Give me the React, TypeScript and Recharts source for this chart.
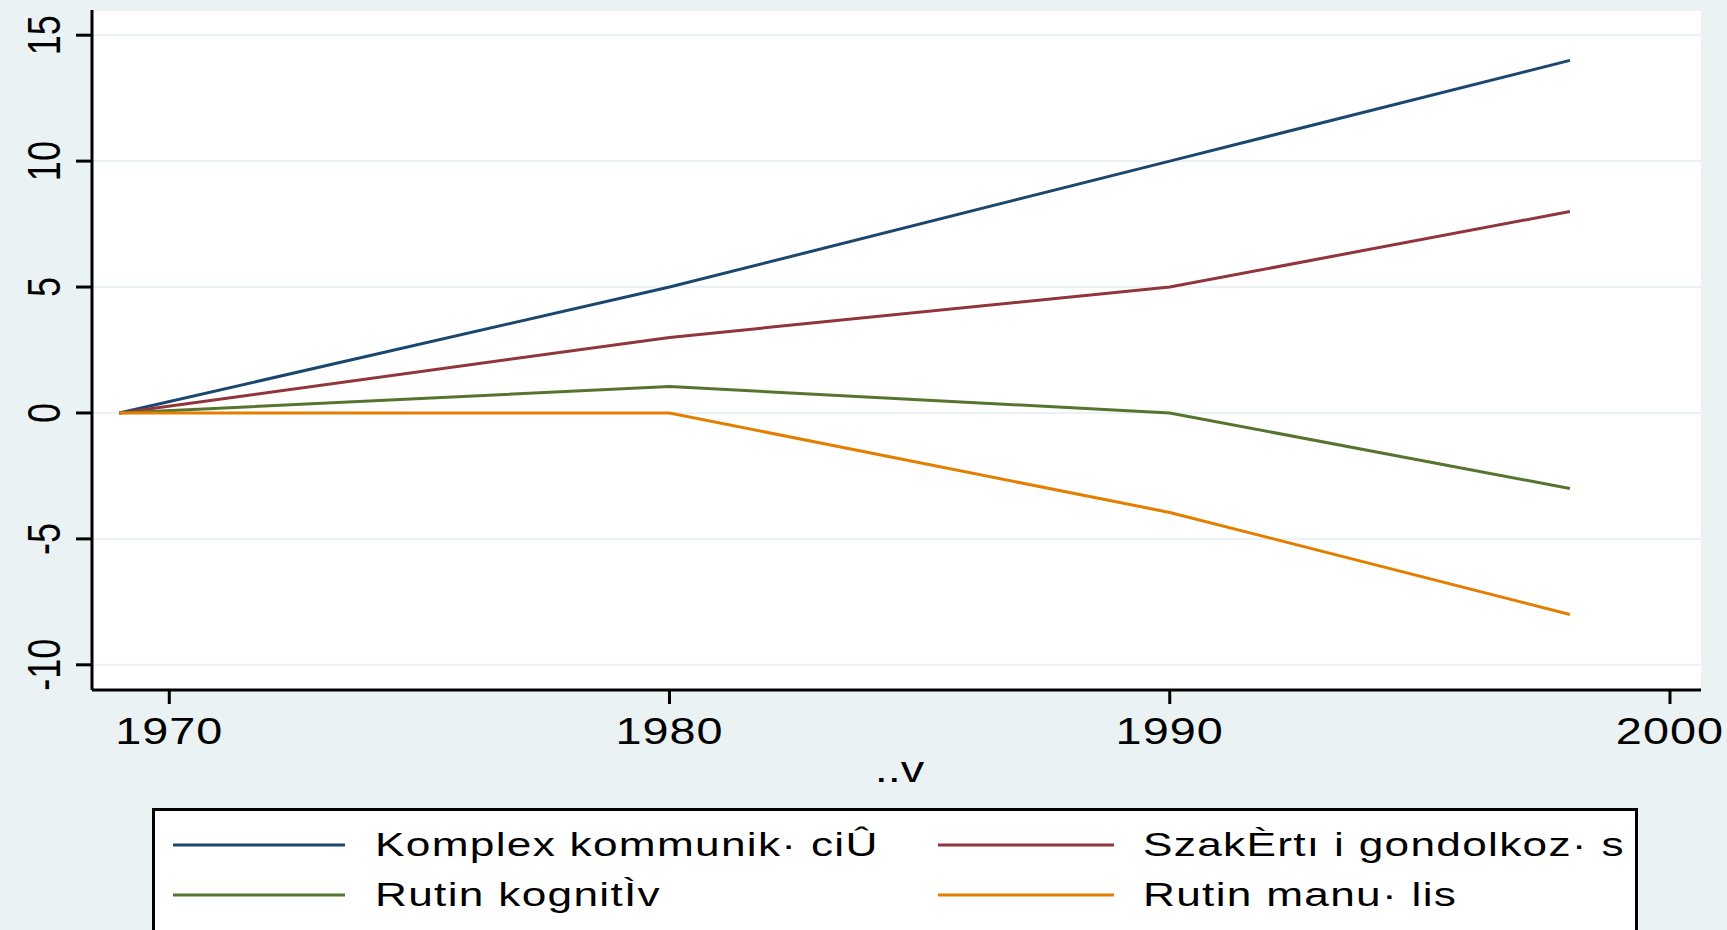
import React from 'react';
import { LineChart, Line, XAxis, YAxis, CartesianGrid, Legend } from 'recharts';

// ---- data ----
const years = [1969, 1980, 1990, 1998];
const komplex = [0, 5, 10, 14];
const szakerto = [0, 3, 5, 8];
const rutinKog = [0, 1.05, 0, -3];
const rutinMan = [0, 0, -3.95, -8];

const xTicks = [1970, 1980, 1990, 2000];
const yTicks = [-10, -5, 0, 5, 10, 15];

const seriesKeys = ['komplex', 'szakerto', 'rutinKog', 'rutinMan'];
const seriesNames = [
  'Komplex kommunik· ciÛ',
  'SzakÈrtı i gondolkoz· s',
  'Rutin kognitÌv',
  'Rutin manu· lis',
];
const seriesColors = ['#1a476f', '#90353b', '#55752f', '#e37e00'];
const xTitle = '..v';

const data = years.map((y, i) => ({
  year: y,
  komplex: komplex[i],
  szakerto: szakerto[i],
  rutinKog: rutinKog[i],
  rutinMan: rutinMan[i],
}));

const FONT = "'Liberation Sans', Arial, Helvetica, sans-serif";
const SX = 1.3;

const XTick = (props: any) => {
  const { x, y, payload } = props;
  return (
    <g transform={`translate(${x},${y})`}>
      <text
        x={0}
        y={0}
        transform={`scale(${SX},1)`}
        textAnchor="middle"
        fontSize={36}
        fontFamily={FONT}
        fill="#000"
        letterSpacing={0.8}
      >
        {payload.value}
      </text>
    </g>
  );
};

const YTick = (props: any) => {
  const { x, y, payload } = props;
  return (
    <g transform={`translate(${x},${y})`}>
      <text
        x={0}
        y={0}
        transform={`scale(${SX},1) rotate(-90)`}
        textAnchor="middle"
        fontSize={36}
        fontFamily={FONT}
        fill="#000"
      >
        {payload.value}
      </text>
    </g>
  );
};

const XTitle = (props: any) => {
  const vb = props.viewBox || { x: 92, y: 690, width: 1609, height: 100 };
  const cx = vb.x + vb.width / 2 + 3;
  const cy = vb.y + 92;
  return (
    <g transform={`translate(${cx},${cy})`}>
      <text
        x={0}
        y={0}
        transform={`scale(${SX},1)`}
        textAnchor="middle"
        fontSize={36}
        fontFamily={FONT}
        fill="#000"
      >
        {xTitle}
      </text>
    </g>
  );
};

const LegendBox = () => {
  const colLine = [
    [21, 193],
    [786, 962],
  ];
  const colText = [223, 991];
  const rowY = [37, 87];
  return (
    <svg width={1486} height={150} style={{ display: 'block' }}>
      <rect x={1.5} y={1.5} width={1483} height={200} fill="#fff" stroke="#000" strokeWidth={3} />
      {seriesNames.map((name, i) => {
        const r = Math.floor(i / 2);
        const c = i % 2;
        return (
          <g key={name}>
            <line
              x1={colLine[c][0]}
              x2={colLine[c][1]}
              y1={rowY[r]}
              y2={rowY[r]}
              stroke={seriesColors[i]}
              strokeWidth={3}
            />
            <g transform={`translate(${colText[c]},${rowY[r] + 11})`}>
              <text
                x={0}
                y={0}
                transform={`scale(${SX},1)`}
                fontSize={34}
                fontFamily={FONT}
                fill="#000"
                letterSpacing={1.0}
              >
                {name}
              </text>
            </g>
          </g>
        );
      })}
    </svg>
  );
};

export default function App() {
  return (
    <div
      style={{
        position: 'absolute',
        left: 0,
        top: 0,
        width: 1727,
        height: 930,
        background: '#eaf2f3',
        overflow: 'hidden',
        fontFamily: FONT,
      }}
    >
      <LineChart
        width={1727}
        height={930}
        data={data}
        margin={{ top: 10, right: 26, left: 0, bottom: 140 }}
      >
        <CartesianGrid
          horizontal={true}
          vertical={false}
          stroke="#eaf2f3"
          strokeWidth={2}
          fill="#ffffff"
          fillOpacity={1}
        />
        <XAxis
          dataKey="year"
          type="number"
          domain={[1968.455, 2000.62]}
          ticks={xTicks}
          interval={0}
          allowDataOverflow
          height={100}
          tickSize={14}
          tickMargin={40}
          axisLine={{ stroke: '#000', strokeWidth: 3 }}
          tickLine={{ stroke: '#000', strokeWidth: 3 }}
          tick={(p: any) => <XTick {...p} />}
          label={{ content: (p: any) => <XTitle {...p} /> }}
        />
        <YAxis
          type="number"
          domain={[-11, 16]}
          ticks={yTicks}
          interval={0}
          allowDataOverflow
          width={92}
          tickSize={16}
          tickMargin={16}
          axisLine={{ stroke: '#000', strokeWidth: 3 }}
          tickLine={{ stroke: '#000', strokeWidth: 3 }}
          tick={(p: any) => <YTick {...p} />}
        />
        <Legend
          layout="horizontal"
          verticalAlign="middle"
          align="center"
          wrapperStyle={{ position: 'absolute', left: 152, top: 808, width: 1486, height: 150 }}
          content={() => <LegendBox />}
        />
        {seriesKeys.map((k, i) => (
          <Line
            key={k}
            dataKey={k}
            name={seriesNames[i]}
            type="linear"
            stroke={seriesColors[i]}
            strokeWidth={3}
            dot={false}
            activeDot={false}
            isAnimationActive={false}
          />
        ))}
      </LineChart>
    </div>
  );
}
